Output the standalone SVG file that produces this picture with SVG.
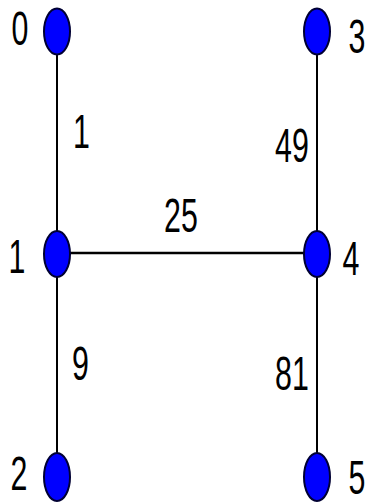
<svg xmlns="http://www.w3.org/2000/svg" width="369" height="504" viewBox="0 0 369 504">
<style>
.node{fill:#0000ff;stroke:#000033;stroke-width:2}
.edge{stroke:#000;stroke-width:2;fill:none}
.lbl{font-family:"Liberation Sans",Arial,sans-serif;font-size:49px;fill:#000;text-anchor:middle}
</style>
<rect width="369" height="504" fill="#fff"/>
<g id="edges">
<line class="edge" x1="57" y1="31" x2="57" y2="477"/>
<line class="edge" x1="317" y1="31" x2="317" y2="477"/>
<line class="edge" x1="57" y1="253" x2="317" y2="253" style="stroke-width:2.6"/>
<text class="lbl" transform="translate(81.5,148) scale(0.62,1)">1</text>
<text class="lbl" transform="translate(181,232) scale(0.62,1)">25</text>
<text class="lbl" transform="translate(292,162) scale(0.62,1)">49</text>
<text class="lbl" transform="translate(80.5,380) scale(0.62,1)">9</text>
<text class="lbl" transform="translate(292,390) scale(0.62,1)">81</text>
</g>
<g id="node0"><ellipse class="node" cx="57" cy="31.5" rx="13" ry="23"/><text class="lbl" transform="translate(20,45) scale(0.62,1)">0</text></g>
<g id="node1"><ellipse class="node" cx="57" cy="254" rx="13" ry="23"/><text class="lbl" transform="translate(17,273) scale(0.62,1)">1</text></g>
<g id="node2"><ellipse class="node" cx="57" cy="477" rx="13" ry="24"/><text class="lbl" transform="translate(19,490) scale(0.62,1)">2</text></g>
<g id="node3"><ellipse class="node" cx="317" cy="31.5" rx="13" ry="23"/><text class="lbl" transform="translate(357,53) scale(0.62,1)">3</text></g>
<g id="node4"><ellipse class="node" cx="317" cy="254" rx="13" ry="23"/><text class="lbl" transform="translate(351,275) scale(0.62,1)">4</text></g>
<g id="node5"><ellipse class="node" cx="317" cy="477" rx="13" ry="24"/><text class="lbl" transform="translate(357,494) scale(0.62,1)">5</text></g>
</svg>
